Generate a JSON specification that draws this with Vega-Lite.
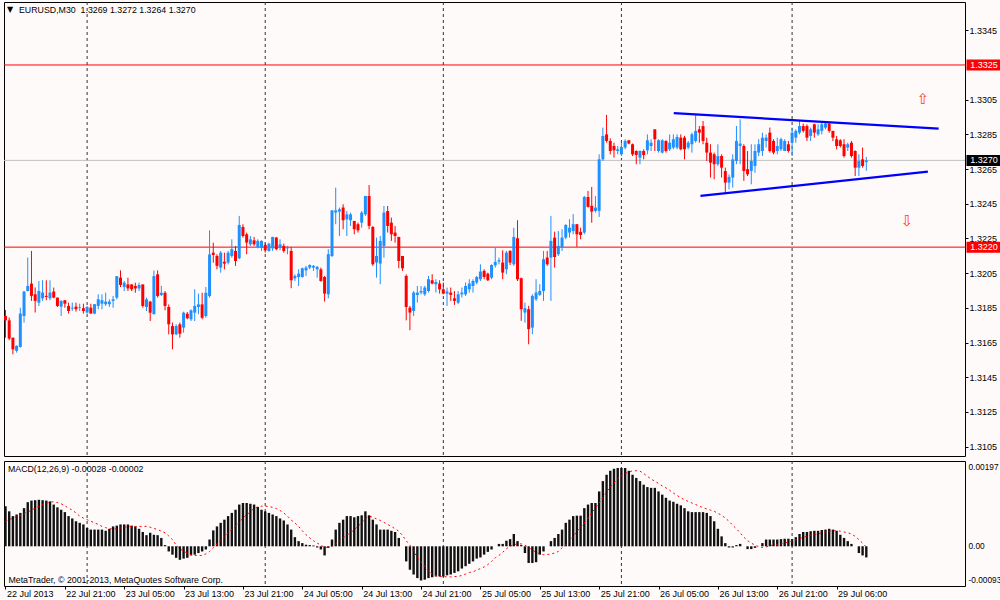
{
"$schema": "https://vega.github.io/schema/vega-lite/v6.json",
"background": "#FFFAFA",
"padding": {"left": 2, "top": 1, "right": 0, "bottom": 0},
"spacing": 3,
"config": {
  "view": {"stroke": "#000000", "strokeWidth": 1},
  "scale": {"continuousPadding": 0},
  "font": "Liberation Sans",
  "axis": {"labelFont": "Liberation Sans", "labelFontSize": 9, "labelColor": "#000000", "domain": false, "tickColor": "#000000", "grid": false}
},
"datasets": {
"bars": [
{"i":0,"o":1.31803,"h":1.31838,"l":1.31678,"c":1.31778,"m":0.00101,"s":0.00063},
{"i":1,"o":1.31778,"h":1.31794,"l":1.31663,"c":1.31673,"m":0.00088,"s":0.00067},
{"i":2,"o":1.31678,"h":1.31678,"l":1.31582,"c":1.31611,"m":0.00076,"s":0.00071},
{"i":3,"o":1.31602,"h":1.31634,"l":1.31592,"c":1.31631,"m":0.0008,"s":0.00075},
{"i":4,"o":1.31625,"h":1.31851,"l":1.31621,"c":1.31817,"m":0.00084,"s":0.00078},
{"i":5,"o":1.31803,"h":1.31947,"l":1.31765,"c":1.31944,"m":0.00096,"s":0.00082},
{"i":6,"o":1.31947,"h":1.3214,"l":1.31944,"c":1.31976,"m":0.00111,"s":0.00086},
{"i":7,"o":1.3199,"h":1.32178,"l":1.3189,"c":1.31919,"m":0.00115,"s":0.00091},
{"i":8,"o":1.31928,"h":1.31967,"l":1.31823,"c":1.3189,"m":0.00116,"s":0.00096},
{"i":9,"o":1.3188,"h":1.32005,"l":1.31861,"c":1.31947,"m":0.00117,"s":0.00101},
{"i":10,"o":1.31905,"h":1.32009,"l":1.3189,"c":1.31938,"m":0.00116,"s":0.00105},
{"i":11,"o":1.31919,"h":1.32009,"l":1.31894,"c":1.31913,"m":0.00115,"s":0.00108},
{"i":12,"o":1.31905,"h":1.32009,"l":1.31894,"c":1.31938,"m":0.00113,"s":0.00111},
{"i":13,"o":1.31944,"h":1.31967,"l":1.31905,"c":1.31909,"m":0.00105,"s":0.00112},
{"i":14,"o":1.31909,"h":1.31909,"l":1.31855,"c":1.31861,"m":0.00098,"s":0.0011},
{"i":15,"o":1.31857,"h":1.31894,"l":1.31803,"c":1.3189,"m":0.00092,"s":0.00107},
{"i":16,"o":1.31894,"h":1.31894,"l":1.31851,"c":1.31874,"m":0.00086,"s":0.00102},
{"i":17,"o":1.31861,"h":1.3188,"l":1.31817,"c":1.31832,"m":0.00076,"s":0.00096},
{"i":18,"o":1.31846,"h":1.3188,"l":1.31832,"c":1.31851,"m":0.0007,"s":0.00091},
{"i":19,"o":1.31857,"h":1.3188,"l":1.31828,"c":1.31842,"m":0.00063,"s":0.00084},
{"i":20,"o":1.31851,"h":1.31874,"l":1.31832,"c":1.31855,"m":0.00059,"s":0.00076},
{"i":21,"o":1.31848,"h":1.31874,"l":1.31817,"c":1.31832,"m":0.00055,"s":0.00071},
{"i":22,"o":1.31823,"h":1.31861,"l":1.31817,"c":1.31855,"m":0.00046,"s":0.00067},
{"i":23,"o":1.31851,"h":1.31874,"l":1.31817,"c":1.31817,"m":0.00042,"s":0.00063},
{"i":24,"o":1.31817,"h":1.31871,"l":1.31813,"c":1.31871,"m":0.00042,"s":0.00059},
{"i":25,"o":1.31861,"h":1.31928,"l":1.31842,"c":1.31899,"m":0.00042,"s":0.00055},
{"i":26,"o":1.31874,"h":1.31928,"l":1.31842,"c":1.31894,"m":0.00042,"s":0.0005},
{"i":27,"o":1.31871,"h":1.31938,"l":1.31861,"c":1.31886,"m":0.00039,"s":0.00047},
{"i":28,"o":1.31871,"h":1.31899,"l":1.31855,"c":1.31886,"m":0.00044,"s":0.00044},
{"i":29,"o":1.3189,"h":1.31919,"l":1.31851,"c":1.31899,"m":0.0005,"s":0.00044},
{"i":30,"o":1.31909,"h":1.32033,"l":1.31899,"c":1.32033,"m":0.00052,"s":0.00044},
{"i":31,"o":1.32024,"h":1.32066,"l":1.3197,"c":1.31982,"m":0.00055,"s":0.00046},
{"i":32,"o":1.3197,"h":1.32005,"l":1.31947,"c":1.31995,"m":0.00055,"s":0.00048},
{"i":33,"o":1.31985,"h":1.32024,"l":1.31947,"c":1.31962,"m":0.00055,"s":0.00049},
{"i":34,"o":1.31985,"h":1.31985,"l":1.31947,"c":1.31957,"m":0.00052,"s":0.0005},
{"i":35,"o":1.31976,"h":1.31995,"l":1.31937,"c":1.31962,"m":0.0005,"s":0.0005},
{"i":36,"o":1.31962,"h":1.31995,"l":1.31947,"c":1.31982,"m":0.00044,"s":0.0005},
{"i":37,"o":1.31985,"h":1.31985,"l":1.31851,"c":1.31861,"m":0.00036,"s":0.0005},
{"i":38,"o":1.31855,"h":1.31909,"l":1.31832,"c":1.31899,"m":0.00028,"s":0.0005},
{"i":39,"o":1.31886,"h":1.3189,"l":1.31774,"c":1.31822,"m":0.00034,"s":0.00048},
{"i":40,"o":1.31813,"h":1.32066,"l":1.31813,"c":1.32033,"m":0.00029,"s":0.00045},
{"i":41,"o":1.32043,"h":1.32066,"l":1.31909,"c":1.31918,"m":0.00028,"s":0.00042},
{"i":42,"o":1.31924,"h":1.31976,"l":1.31918,"c":1.31937,"m":0.00021,"s":0.00038},
{"i":43,"o":1.31937,"h":1.31947,"l":1.31836,"c":1.31861,"m":0.00003,"s":0.00034},
{"i":44,"o":1.31855,"h":1.3187,"l":1.31697,"c":1.31755,"m":-0.00013,"s":0.00026},
{"i":45,"o":1.31745,"h":1.31765,"l":1.31611,"c":1.31697,"m":-0.00021,"s":0.00017},
{"i":46,"o":1.31697,"h":1.31755,"l":1.31693,"c":1.31745,"m":-0.00029,"s":0.00003},
{"i":47,"o":1.31755,"h":1.31765,"l":1.31678,"c":1.31701,"m":-0.00034,"s":-0.00006},
{"i":48,"o":1.31736,"h":1.31828,"l":1.31707,"c":1.31822,"m":-0.00031,"s":-0.00013},
{"i":49,"o":1.31816,"h":1.31826,"l":1.31784,"c":1.3179,"m":-0.00029,"s":-0.00017},
{"i":50,"o":1.31784,"h":1.31841,"l":1.31774,"c":1.31836,"m":-0.00023,"s":-0.00021},
{"i":51,"o":1.31822,"h":1.31957,"l":1.31774,"c":1.31861,"m":-0.00021,"s":-0.00023},
{"i":52,"o":1.31855,"h":1.31932,"l":1.31813,"c":1.3187,"m":-0.00017,"s":-0.00023},
{"i":53,"o":1.3187,"h":1.31937,"l":1.31784,"c":1.31793,"m":-0.00013,"s":-0.00023},
{"i":54,"o":1.31803,"h":1.3197,"l":1.31793,"c":1.31937,"m":-0.00008,"s":-0.00019},
{"i":55,"o":1.31918,"h":1.32297,"l":1.31909,"c":1.32158,"m":0.00017,"s":-0.00013},
{"i":56,"o":1.32168,"h":1.32226,"l":1.3211,"c":1.32155,"m":0.0004,"s":-0.00004},
{"i":57,"o":1.32149,"h":1.32159,"l":1.32072,"c":1.32092,"m":0.0005,"s":0.00006},
{"i":58,"o":1.32082,"h":1.32178,"l":1.32053,"c":1.32168,"m":0.00059,"s":0.00016},
{"i":59,"o":1.32116,"h":1.32168,"l":1.32072,"c":1.32105,"m":0.00067,"s":0.00025},
{"i":60,"o":1.32111,"h":1.32178,"l":1.32101,"c":1.32168,"m":0.00076,"s":0.00034},
{"i":61,"o":1.32149,"h":1.32245,"l":1.32139,"c":1.32188,"m":0.00084,"s":0.00042},
{"i":62,"o":1.32178,"h":1.32207,"l":1.32092,"c":1.3212,"m":0.00092,"s":0.0005},
{"i":63,"o":1.32136,"h":1.3238,"l":1.3213,"c":1.32328,"m":0.00105,"s":0.0006},
{"i":64,"o":1.32316,"h":1.32332,"l":1.32255,"c":1.32264,"m":0.00109,"s":0.00071},
{"i":65,"o":1.32274,"h":1.32284,"l":1.32159,"c":1.32226,"m":0.00109,"s":0.0008},
{"i":66,"o":1.32216,"h":1.32264,"l":1.32207,"c":1.32245,"m":0.00107,"s":0.00086},
{"i":67,"o":1.32239,"h":1.32259,"l":1.32207,"c":1.32216,"m":0.00105,"s":0.00096},
{"i":68,"o":1.32201,"h":1.32245,"l":1.32193,"c":1.32236,"m":0.00099,"s":0.00099},
{"i":69,"o":1.32197,"h":1.32239,"l":1.32178,"c":1.32236,"m":0.00092,"s":0.00101},
{"i":70,"o":1.32213,"h":1.32226,"l":1.32168,"c":1.32182,"m":0.00088,"s":0.00101},
{"i":71,"o":1.32178,"h":1.32226,"l":1.32174,"c":1.3222,"m":0.00084,"s":0.001},
{"i":72,"o":1.32193,"h":1.32259,"l":1.32178,"c":1.32259,"m":0.0008,"s":0.00098},
{"i":73,"o":1.32255,"h":1.32259,"l":1.32182,"c":1.32188,"m":0.00076,"s":0.00095},
{"i":74,"o":1.32197,"h":1.32245,"l":1.32182,"c":1.32216,"m":0.0007,"s":0.0009},
{"i":75,"o":1.32207,"h":1.3222,"l":1.32168,"c":1.32178,"m":0.00065,"s":0.00084},
{"i":76,"o":1.32193,"h":1.32207,"l":1.32159,"c":1.32201,"m":0.00055,"s":0.00076},
{"i":77,"o":1.32178,"h":1.32201,"l":1.31963,"c":1.32009,"m":0.00042,"s":0.00066},
{"i":78,"o":1.3202,"h":1.32043,"l":1.32005,"c":1.32034,"m":0.00023,"s":0.00059},
{"i":79,"o":1.32028,"h":1.32072,"l":1.31976,"c":1.32047,"m":0.00013,"s":0.0005},
{"i":80,"o":1.32028,"h":1.32082,"l":1.32024,"c":1.32078,"m":0.00008,"s":0.00039},
{"i":81,"o":1.32066,"h":1.32092,"l":1.32034,"c":1.32082,"m":0.00004,"s":0.00029},
{"i":82,"o":1.32082,"h":1.32101,"l":1.32072,"c":1.32097,"m":0.00003,"s":0.00021},
{"i":83,"o":1.32082,"h":1.32097,"l":1.32063,"c":1.32092,"m":0.00002,"s":0.00014},
{"i":84,"o":1.32072,"h":1.32092,"l":1.32024,"c":1.32086,"m":-0.00003,"s":0.00008},
{"i":85,"o":1.32072,"h":1.32082,"l":1.32001,"c":1.32005,"m":-0.00008,"s":0.00003},
{"i":86,"o":1.32028,"h":1.32034,"l":1.31886,"c":1.31932,"m":-0.00023,"s":-0.00003},
{"i":87,"o":1.31928,"h":1.32188,"l":1.31905,"c":1.32159,"m":-0.00004,"s":-0.00002},
{"i":88,"o":1.32149,"h":1.32412,"l":1.32143,"c":1.32412,"m":0.00017,"s":0},
{"i":89,"o":1.32399,"h":1.32543,"l":1.32332,"c":1.32412,"m":0.00042,"s":0.00006},
{"i":90,"o":1.32405,"h":1.32428,"l":1.32264,"c":1.32418,"m":0.00059,"s":0.00014},
{"i":91,"o":1.32428,"h":1.32447,"l":1.32303,"c":1.32355,"m":0.00067,"s":0.00021},
{"i":92,"o":1.3236,"h":1.32408,"l":1.32264,"c":1.32389,"m":0.00076,"s":0.00028},
{"i":93,"o":1.32355,"h":1.32399,"l":1.32322,"c":1.32389,"m":0.00076,"s":0.00034},
{"i":94,"o":1.32351,"h":1.32351,"l":1.32274,"c":1.32303,"m":0.00073,"s":0.00042},
{"i":95,"o":1.32332,"h":1.32341,"l":1.32284,"c":1.32297,"m":0.00076,"s":0.0005},
{"i":96,"o":1.32341,"h":1.32408,"l":1.32312,"c":1.32399,"m":0.00078,"s":0.00059},
{"i":97,"o":1.32389,"h":1.32495,"l":1.3238,"c":1.32495,"m":0.00088,"s":0.0007},
{"i":98,"o":1.32495,"h":1.32558,"l":1.32303,"c":1.32322,"m":0.00078,"s":0.00076},
{"i":99,"o":1.32316,"h":1.32322,"l":1.32092,"c":1.32101,"m":0.00067,"s":0.00073},
{"i":100,"o":1.32111,"h":1.32255,"l":1.32024,"c":1.32149,"m":0.00055,"s":0.00069},
{"i":101,"o":1.32105,"h":1.32264,"l":1.31986,"c":1.32236,"m":0.00042,"s":0.00065},
{"i":102,"o":1.32207,"h":1.32437,"l":1.32139,"c":1.32399,"m":0.00042,"s":0.0006},
{"i":103,"o":1.32408,"h":1.32437,"l":1.32284,"c":1.32322,"m":0.00042,"s":0.00055},
{"i":104,"o":1.32341,"h":1.3237,"l":1.32236,"c":1.32274,"m":0.00039,"s":0.0005},
{"i":105,"o":1.32284,"h":1.32322,"l":1.32226,"c":1.32264,"m":0.00036,"s":0.00044},
{"i":106,"o":1.32259,"h":1.32259,"l":1.32078,"c":1.3212,"m":0.00021,"s":0.00038},
{"i":107,"o":1.32149,"h":1.32149,"l":1.32063,"c":1.32078,"m":0,"s":0.00027},
{"i":108,"o":1.32034,"h":1.32043,"l":1.31778,"c":1.31855,"m":-0.00038,"s":0.00014},
{"i":109,"o":1.31851,"h":1.31861,"l":1.31721,"c":1.31823,"m":-0.00059,"s":0.00003},
{"i":110,"o":1.31832,"h":1.31947,"l":1.31803,"c":1.31938,"m":-0.00071,"s":-0.00013},
{"i":111,"o":1.31924,"h":1.31976,"l":1.3188,"c":1.31938,"m":-0.0008,"s":-0.00028},
{"i":112,"o":1.31938,"h":1.31976,"l":1.31928,"c":1.31947,"m":-0.00086,"s":-0.00039},
{"i":113,"o":1.31928,"h":1.31976,"l":1.31919,"c":1.31967,"m":-0.00084,"s":-0.0005},
{"i":114,"o":1.31947,"h":1.32034,"l":1.31938,"c":1.32015,"m":-0.0008,"s":-0.00063},
{"i":115,"o":1.32009,"h":1.32044,"l":1.31986,"c":1.3199,"m":-0.00078,"s":-0.0007},
{"i":116,"o":1.31986,"h":1.32015,"l":1.31938,"c":1.31999,"m":-0.00076,"s":-0.00074},
{"i":117,"o":1.3199,"h":1.32009,"l":1.31932,"c":1.31957,"m":-0.00076,"s":-0.00076},
{"i":118,"o":1.31957,"h":1.31996,"l":1.31928,"c":1.31932,"m":-0.00076,"s":-0.00076},
{"i":119,"o":1.31932,"h":1.31967,"l":1.31861,"c":1.31944,"m":-0.00073,"s":-0.00077},
{"i":120,"o":1.31938,"h":1.31967,"l":1.3189,"c":1.31925,"m":-0.00071,"s":-0.00077},
{"i":121,"o":1.31905,"h":1.31947,"l":1.31867,"c":1.3189,"m":-0.00067,"s":-0.00076},
{"i":122,"o":1.3188,"h":1.31947,"l":1.31871,"c":1.31928,"m":-0.00063,"s":-0.00076},
{"i":123,"o":1.31928,"h":1.31967,"l":1.31909,"c":1.31938,"m":-0.00056,"s":-0.00073},
{"i":124,"o":1.31928,"h":1.31996,"l":1.31919,"c":1.31976,"m":-0.0005,"s":-0.0007},
{"i":125,"o":1.31957,"h":1.32015,"l":1.31938,"c":1.3199,"m":-0.00044,"s":-0.00066},
{"i":126,"o":1.31976,"h":1.32015,"l":1.31938,"c":1.32005,"m":-0.00038,"s":-0.00064},
{"i":127,"o":1.31996,"h":1.32034,"l":1.31986,"c":1.32028,"m":-0.00031,"s":-0.0006},
{"i":128,"o":1.32015,"h":1.32101,"l":1.32005,"c":1.32059,"m":-0.00028,"s":-0.00056},
{"i":129,"o":1.32063,"h":1.32072,"l":1.32015,"c":1.32028,"m":-0.00021,"s":-0.00052},
{"i":130,"o":1.32047,"h":1.32053,"l":1.32005,"c":1.32009,"m":-0.00014,"s":-0.00046},
{"i":131,"o":1.32024,"h":1.32101,"l":1.32015,"c":1.32097,"m":-0.00008,"s":-0.00038},
{"i":132,"o":1.32095,"h":1.32197,"l":1.32082,"c":1.32115,"m":0,"s":-0.00029},
{"i":133,"o":1.32117,"h":1.3214,"l":1.32101,"c":1.32124,"m":0.00006,"s":-0.00023},
{"i":134,"o":1.32111,"h":1.32182,"l":1.32015,"c":1.32053,"m":0.00006,"s":-0.00015},
{"i":135,"o":1.32072,"h":1.32178,"l":1.32044,"c":1.32168,"m":0.00014,"s":-0.00006},
{"i":136,"o":1.32178,"h":1.32182,"l":1.32097,"c":1.32111,"m":0.00018,"s":0},
{"i":137,"o":1.32101,"h":1.32312,"l":1.32092,"c":1.32259,"m":0.00031,"s":0.00004},
{"i":138,"o":1.32251,"h":1.32355,"l":1.32005,"c":1.32015,"m":0.00013,"s":0.00006},
{"i":139,"o":1.32021,"h":1.32024,"l":1.31775,"c":1.31842,"m":0.00003,"s":0.00006},
{"i":140,"o":1.31823,"h":1.3188,"l":1.31765,"c":1.31848,"m":-0.00017,"s":0.00003},
{"i":141,"o":1.31842,"h":1.31861,"l":1.3164,"c":1.31727,"m":-0.00042,"s":-0.00003},
{"i":142,"o":1.31736,"h":1.31928,"l":1.31698,"c":1.31919,"m":-0.00042,"s":-0.00009},
{"i":143,"o":1.31899,"h":1.32015,"l":1.3189,"c":1.31938,"m":-0.0004,"s":-0.00015},
{"i":144,"o":1.31925,"h":1.31986,"l":1.31919,"c":1.31947,"m":-0.00021,"s":-0.00019},
{"i":145,"o":1.31947,"h":1.32178,"l":1.3189,"c":1.3213,"m":-0.00013,"s":-0.00021},
{"i":146,"o":1.3214,"h":1.32178,"l":1.32092,"c":1.32101,"m":0,"s":-0.00021},
{"i":147,"o":1.3214,"h":1.3238,"l":1.3189,"c":1.32236,"m":0.00013,"s":-0.00019},
{"i":148,"o":1.32255,"h":1.32289,"l":1.32082,"c":1.32143,"m":0.00021,"s":-0.00017},
{"i":149,"o":1.32159,"h":1.32293,"l":1.32149,"c":1.32207,"m":0.00031,"s":-0.00013},
{"i":150,"o":1.32197,"h":1.32303,"l":1.32178,"c":1.32255,"m":0.00042,"s":-0.00004},
{"i":151,"o":1.32255,"h":1.32332,"l":1.32245,"c":1.32328,"m":0.00059,"s":0.00004},
{"i":152,"o":1.32284,"h":1.32361,"l":1.32255,"c":1.32312,"m":0.00067,"s":0.00014},
{"i":153,"o":1.32293,"h":1.3239,"l":1.32274,"c":1.32332,"m":0.00076,"s":0.00025},
{"i":154,"o":1.32332,"h":1.32332,"l":1.32201,"c":1.32274,"m":0.00077,"s":0.00037},
{"i":155,"o":1.32288,"h":1.32312,"l":1.32245,"c":1.3227,"m":0.00077,"s":0.00048},
{"i":156,"o":1.32284,"h":1.32495,"l":1.32274,"c":1.32489,"m":0.00096,"s":0.00059},
{"i":157,"o":1.32489,"h":1.32524,"l":1.32428,"c":1.32432,"m":0.00105,"s":0.00071},
{"i":158,"o":1.32438,"h":1.32547,"l":1.32341,"c":1.32405,"m":0.00109,"s":0.00084},
{"i":159,"o":1.32409,"h":1.32495,"l":1.32399,"c":1.32428,"m":0.00109,"s":0.00096},
{"i":160,"o":1.32409,"h":1.32735,"l":1.32374,"c":1.32706,"m":0.00138,"s":0.00109},
{"i":161,"o":1.32706,"h":1.32889,"l":1.32697,"c":1.32841,"m":0.00164,"s":0.00123},
{"i":162,"o":1.3285,"h":1.32962,"l":1.32802,"c":1.32812,"m":0.0018,"s":0.00137},
{"i":163,"o":1.32812,"h":1.32827,"l":1.32735,"c":1.32754,"m":0.0019,"s":0.00149},
{"i":164,"o":1.32783,"h":1.32802,"l":1.32716,"c":1.32758,"m":0.00195,"s":0.00159},
{"i":165,"o":1.32754,"h":1.32783,"l":1.32735,"c":1.32764,"m":0.00197,"s":0.0017},
{"i":166,"o":1.32735,"h":1.32802,"l":1.32725,"c":1.32777,"m":0.00197,"s":0.00178},
{"i":167,"o":1.32774,"h":1.32822,"l":1.32764,"c":1.32812,"m":0.00197,"s":0.00183},
{"i":168,"o":1.32816,"h":1.32816,"l":1.32793,"c":1.32797,"m":0.0019,"s":0.00187},
{"i":169,"o":1.32793,"h":1.32797,"l":1.32725,"c":1.32735,"m":0.0018,"s":0.0019},
{"i":170,"o":1.32754,"h":1.32758,"l":1.32678,"c":1.32731,"m":0.00172,"s":0.0019},
{"i":171,"o":1.32716,"h":1.32758,"l":1.32678,"c":1.32754,"m":0.00164,"s":0.00189},
{"i":172,"o":1.32754,"h":1.32764,"l":1.32706,"c":1.32731,"m":0.00155,"s":0.00183},
{"i":173,"o":1.32758,"h":1.3285,"l":1.32735,"c":1.32816,"m":0.00149,"s":0.00176},
{"i":174,"o":1.32783,"h":1.32822,"l":1.32754,"c":1.32802,"m":0.00147,"s":0.00169},
{"i":175,"o":1.32879,"h":1.32879,"l":1.32754,"c":1.32822,"m":0.00147,"s":0.00164},
{"i":176,"o":1.32754,"h":1.32822,"l":1.32745,"c":1.32816,"m":0.00138,"s":0.00158},
{"i":177,"o":1.32745,"h":1.32822,"l":1.32739,"c":1.32816,"m":0.0013,"s":0.00152},
{"i":178,"o":1.32812,"h":1.32816,"l":1.32745,"c":1.32754,"m":0.00122,"s":0.00147},
{"i":179,"o":1.32764,"h":1.3285,"l":1.32754,"c":1.32802,"m":0.00115,"s":0.00141},
{"i":180,"o":1.32774,"h":1.3285,"l":1.32764,"c":1.32822,"m":0.00112,"s":0.00134},
{"i":181,"o":1.32774,"h":1.3285,"l":1.32764,"c":1.32835,"m":0.00107,"s":0.00128},
{"i":182,"o":1.32831,"h":1.3285,"l":1.32758,"c":1.32764,"m":0.00103,"s":0.00122},
{"i":183,"o":1.32831,"h":1.32841,"l":1.32706,"c":1.32764,"m":0.00096,"s":0.00117},
{"i":184,"o":1.32774,"h":1.32812,"l":1.32764,"c":1.32802,"m":0.00088,"s":0.00113},
{"i":185,"o":1.32793,"h":1.3286,"l":1.32745,"c":1.3285,"m":0.00086,"s":0.00109},
{"i":186,"o":1.32812,"h":1.32962,"l":1.32802,"c":1.3287,"m":0.00086,"s":0.00105},
{"i":187,"o":1.32879,"h":1.32898,"l":1.32802,"c":1.3286,"m":0.00086,"s":0.00101},
{"i":188,"o":1.32898,"h":1.32927,"l":1.32793,"c":1.32812,"m":0.00086,"s":0.00097},
{"i":189,"o":1.32802,"h":1.32831,"l":1.32697,"c":1.32745,"m":0.00084,"s":0.00094},
{"i":190,"o":1.32745,"h":1.32793,"l":1.32601,"c":1.32687,"m":0.00076,"s":0.00091},
{"i":191,"o":1.32735,"h":1.32745,"l":1.32591,"c":1.32678,"m":0.00063,"s":0.00088},
{"i":192,"o":1.32678,"h":1.32793,"l":1.32668,"c":1.32725,"m":0.00044,"s":0.00083},
{"i":193,"o":1.32725,"h":1.32735,"l":1.32601,"c":1.32658,"m":0.00025,"s":0.00078},
{"i":194,"o":1.32639,"h":1.32658,"l":1.32514,"c":1.32572,"m":0.00008,"s":0.00071},
{"i":195,"o":1.32572,"h":1.3262,"l":1.32533,"c":1.32605,"m":-0.00003,"s":0.00063},
{"i":196,"o":1.32601,"h":1.32735,"l":1.32543,"c":1.32706,"m":-0.00003,"s":0.00053},
{"i":197,"o":1.32697,"h":1.32898,"l":1.32678,"c":1.32812,"m":0.00003,"s":0.00044},
{"i":198,"o":1.32783,"h":1.32937,"l":1.32678,"c":1.32797,"m":0.00006,"s":0.00034},
{"i":199,"o":1.32783,"h":1.32793,"l":1.32582,"c":1.32639,"m":0,"s":0.00023},
{"i":200,"o":1.32649,"h":1.32754,"l":1.3261,"c":1.3262,"m":-0.00007,"s":0.00014},
{"i":201,"o":1.32639,"h":1.32793,"l":1.32562,"c":1.32697,"m":-0.00007,"s":0.00008},
{"i":202,"o":1.32668,"h":1.32793,"l":1.32629,"c":1.32754,"m":-0.00004,"s":0.00003},
{"i":203,"o":1.32745,"h":1.32822,"l":1.32725,"c":1.32793,"m":0,"s":-0.00001},
{"i":204,"o":1.32754,"h":1.3286,"l":1.32725,"c":1.32831,"m":0.00008,"s":-0.00003},
{"i":205,"o":1.32812,"h":1.3285,"l":1.32774,"c":1.32831,"m":0.00017,"s":-0.00002},
{"i":206,"o":1.3286,"h":1.32889,"l":1.32745,"c":1.32754,"m":0.00017,"s":0.00002},
{"i":207,"o":1.32812,"h":1.32822,"l":1.32735,"c":1.32745,"m":0.00017,"s":0.00003},
{"i":208,"o":1.32754,"h":1.32831,"l":1.32735,"c":1.32783,"m":0.00017,"s":0.00004},
{"i":209,"o":1.32764,"h":1.32831,"l":1.32754,"c":1.32822,"m":0.00018,"s":0.00006},
{"i":210,"o":1.32754,"h":1.32822,"l":1.32754,"c":1.32812,"m":0.00019,"s":0.00008},
{"i":211,"o":1.32793,"h":1.32812,"l":1.32745,"c":1.32754,"m":0.00019,"s":0.00011},
{"i":212,"o":1.32802,"h":1.32889,"l":1.32725,"c":1.3286,"m":0.00018,"s":0.00013},
{"i":213,"o":1.32831,"h":1.32879,"l":1.32802,"c":1.3287,"m":0.00023,"s":0.00016},
{"i":214,"o":1.3286,"h":1.32927,"l":1.3285,"c":1.32898,"m":0.00031,"s":0.00019},
{"i":215,"o":1.32898,"h":1.32912,"l":1.3286,"c":1.3287,"m":0.00036,"s":0.00023},
{"i":216,"o":1.32898,"h":1.32908,"l":1.32812,"c":1.32831,"m":0.00036,"s":0.00025},
{"i":217,"o":1.32841,"h":1.32889,"l":1.32812,"c":1.32879,"m":0.00038,"s":0.00028},
{"i":218,"o":1.32908,"h":1.32912,"l":1.32831,"c":1.3286,"m":0.00039,"s":0.00029},
{"i":219,"o":1.3285,"h":1.32908,"l":1.32841,"c":1.32879,"m":0.00039,"s":0.00031},
{"i":220,"o":1.3287,"h":1.32918,"l":1.3285,"c":1.32908,"m":0.00041,"s":0.00034},
{"i":221,"o":1.32889,"h":1.32918,"l":1.32879,"c":1.32912,"m":0.00042,"s":0.00036},
{"i":222,"o":1.32912,"h":1.32918,"l":1.3286,"c":1.3287,"m":0.00044,"s":0.00038},
{"i":223,"o":1.3287,"h":1.3287,"l":1.32812,"c":1.32831,"m":0.00042,"s":0.00039},
{"i":224,"o":1.32822,"h":1.32841,"l":1.32764,"c":1.32783,"m":0.00039,"s":0.00039},
{"i":225,"o":1.32816,"h":1.32822,"l":1.32774,"c":1.32783,"m":0.00029,"s":0.00038},
{"i":226,"o":1.32793,"h":1.32822,"l":1.32716,"c":1.32725,"m":0.00021,"s":0.00036},
{"i":227,"o":1.32774,"h":1.32802,"l":1.32754,"c":1.32793,"m":0.00013,"s":0.00034},
{"i":228,"o":1.32802,"h":1.32812,"l":1.32716,"c":1.32725,"m":0.00006,"s":0.00031},
{"i":229,"o":1.32754,"h":1.32758,"l":1.3261,"c":1.32658,"m":0,"s":0.00025},
{"i":230,"o":1.32658,"h":1.32735,"l":1.3261,"c":1.32697,"m":-0.00017,"s":0.00017},
{"i":231,"o":1.32706,"h":1.32774,"l":1.32658,"c":1.32668,"m":-0.00023,"s":0.00008},
{"i":232,"o":1.3269,"h":1.3272,"l":1.3264,"c":1.327,"m":-0.00028,"s":-0.00002}
],
"seps": [{"i":22},{"i":70},{"i":118},{"i":166},{"i":212}],
"trend": [{"k":"a","i":180.1,"p":1.32972},{"k":"a","i":251.5,"p":1.32883},{"k":"b","i":187.3,"p":1.32495},{"k":"b","i":248.6,"p":1.32635}],
"levels": [{"p":1.3325},{"p":1.322}],
"boxes": [{"p":1.3325},{"p":1.322},{"p":1.327}]
},
"vconcat": [
{
  "width": 961, "height": 454,
  "layer": [
    {"data": {"name": "seps"}, "mark": {"type": "rule", "color": "#333333", "strokeDash": [3, 3], "strokeWidth": 1},
     "encoding": {"x": {"field": "i", "type": "quantitative", "scale": {"domain": [-0.4, 258.6], "nice": false, "zero": false, "padding": 0}, "axis": null}}},
    {"data": {"values": [{"p": 1.327}]}, "mark": {"type": "rule", "color": "#C0C0C0", "strokeWidth": 1},
     "encoding": {"y": {"field": "p", "type": "quantitative", "scale": {"domain": [1.30996, 1.33613], "nice": false, "zero": false, "padding": 0},
       "axis": {"orient": "right", "values": [1.3105, 1.3125, 1.3145, 1.3165, 1.3185, 1.3205, 1.3225, 1.3245, 1.3265, 1.3285, 1.3305, 1.3345], "format": ".4f", "tickSize": 3, "labelPadding": 1, "labelAlign": "left", "labelBaseline": "middle", "title": null}}}},
    {"data": {"name": "levels"}, "mark": {"type": "rule", "color": "#FF0000", "strokeWidth": 1},
     "encoding": {"y": {"field": "p", "type": "quantitative", "scale": {"domain": [1.30996, 1.33613], "nice": false, "zero": false, "padding": 0},
       "axis": {"orient": "right", "values": [1.3105, 1.3125, 1.3145, 1.3165, 1.3185, 1.3205, 1.3225, 1.3245, 1.3265, 1.3285, 1.3305, 1.3345], "format": ".4f", "tickSize": 3, "labelPadding": 1, "labelAlign": "left", "labelBaseline": "middle", "title": null}}}},
    {"data": {"name": "bars"}, "mark": {"type": "rule", "strokeWidth": 1},
     "encoding": {
       "x": {"field": "i", "type": "quantitative", "scale": {"domain": [-0.4, 258.6], "nice": false, "zero": false, "padding": 0}, "axis": null},
       "y": {"field": "l", "type": "quantitative", "scale": {"domain": [1.30996, 1.33613], "nice": false, "zero": false, "padding": 0},
             "axis": {"orient": "right", "values": [1.3105, 1.3125, 1.3145, 1.3165, 1.3185, 1.3205, 1.3225, 1.3245, 1.3265, 1.3285, 1.3305, 1.3345], "format": ".4f", "tickSize": 3, "labelPadding": 1, "labelAlign": "left", "labelBaseline": "middle", "title": null}},
       "y2": {"field": "h"},
       "color": {"condition": {"test": "datum.c >= datum.o", "value": "#1E90FF"}, "value": "#FF0000"}
     }},
    {"data": {"name": "bars"}, "mark": {"type": "bar", "width": 3},
     "encoding": {
       "x": {"field": "i", "type": "quantitative", "scale": {"domain": [-0.4, 258.6], "nice": false, "zero": false, "padding": 0}, "axis": null},
       "y": {"field": "o", "type": "quantitative", "scale": {"domain": [1.30996, 1.33613], "nice": false, "zero": false, "padding": 0},
             "axis": {"orient": "right", "values": [1.3105, 1.3125, 1.3145, 1.3165, 1.3185, 1.3205, 1.3225, 1.3245, 1.3265, 1.3285, 1.3305, 1.3345], "format": ".4f", "tickSize": 3, "labelPadding": 1, "labelAlign": "left", "labelBaseline": "middle", "title": null}},
       "y2": {"field": "c"},
       "color": {"condition": {"test": "datum.c >= datum.o", "value": "#1E90FF"}, "value": "#FF0000"}
     }},
    {"data": {"name": "trend"}, "mark": {"type": "line", "color": "#0000FF", "strokeWidth": 2.2},
     "encoding": {
       "x": {"field": "i", "type": "quantitative", "scale": {"domain": [-0.4, 258.6], "nice": false, "zero": false, "padding": 0}, "axis": null},
       "y": {"field": "p", "type": "quantitative", "scale": {"domain": [1.30996, 1.33613], "nice": false, "zero": false, "padding": 0},
             "axis": {"orient": "right", "values": [1.3105, 1.3125, 1.3145, 1.3165, 1.3185, 1.3205, 1.3225, 1.3245, 1.3265, 1.3285, 1.3305, 1.3345], "format": ".4f", "tickSize": 3, "labelPadding": 1, "labelAlign": "left", "labelBaseline": "middle", "title": null}},
       "detail": {"field": "k"}
     }},
    {"data": {"values": [{"i": 247.3, "p": 1.33054, "g": "⇧"}, {"i": 243.0, "p": 1.3235, "g": "⇩"}]}, "mark": {"type": "text", "font": "DejaVu Sans", "fontSize": 15, "color": "#FF4500", "baseline": "middle", "align": "center"},
     "encoding": {
       "x": {"field": "i", "type": "quantitative", "scale": {"domain": [-0.4, 258.6], "nice": false, "zero": false, "padding": 0}, "axis": null},
       "y": {"field": "p", "type": "quantitative", "scale": {"domain": [1.30996, 1.33613], "nice": false, "zero": false, "padding": 0},
             "axis": {"orient": "right", "values": [1.3105, 1.3125, 1.3145, 1.3165, 1.3185, 1.3205, 1.3225, 1.3245, 1.3265, 1.3285, 1.3305, 1.3345], "format": ".4f", "tickSize": 3, "labelPadding": 1, "labelAlign": "left", "labelBaseline": "middle", "title": null}},
       "text": {"field": "g"}
     }},
    {"data": {"values": [{"i": 0.4, "p": 1.33567, "t": "▼"}]}, "mark": {"type": "text", "font": "DejaVu Sans", "fontSize": 8, "color": "#000000", "baseline": "middle", "align": "left"},
     "encoding": {
       "x": {"field": "i", "type": "quantitative", "scale": {"domain": [-0.4, 258.6], "nice": false, "zero": false, "padding": 0}, "axis": null},
       "y": {"field": "p", "type": "quantitative", "scale": {"domain": [1.30996, 1.33613], "nice": false, "zero": false, "padding": 0},
             "axis": {"orient": "right", "values": [1.3105, 1.3125, 1.3145, 1.3165, 1.3185, 1.3205, 1.3225, 1.3245, 1.3265, 1.3285, 1.3305, 1.3345], "format": ".4f", "tickSize": 3, "labelPadding": 1, "labelAlign": "left", "labelBaseline": "middle", "title": null}},
       "text": {"field": "t"}
     }},
    {"data": {"values": [{"i": 3.64, "p": 1.33567, "t": "EURUSD,M30\u00a0 1.3269 1.3272 1.3264 1.3270"}]}, "mark": {"type": "text", "fontSize": 8.8, "color": "#000000", "baseline": "middle", "align": "left"},
     "encoding": {
       "x": {"field": "i", "type": "quantitative", "scale": {"domain": [-0.4, 258.6], "nice": false, "zero": false, "padding": 0}, "axis": null},
       "y": {"field": "p", "type": "quantitative", "scale": {"domain": [1.30996, 1.33613], "nice": false, "zero": false, "padding": 0},
             "axis": {"orient": "right", "values": [1.3105, 1.3125, 1.3145, 1.3165, 1.3185, 1.3205, 1.3225, 1.3245, 1.3265, 1.3285, 1.3305, 1.3345], "format": ".4f", "tickSize": 3, "labelPadding": 1, "labelAlign": "left", "labelBaseline": "middle", "title": null}},
       "text": {"field": "t"}
     }},
    {"data": {"name": "boxes"}, "mark": {"type": "bar", "orient": "horizontal", "height": 11, "clip": false},
     "encoding": {
       "x": {"datum": 259.0, "type": "quantitative", "scale": {"domain": [-0.4, 258.6], "nice": false, "zero": false, "padding": 0}, "axis": null},
       "x2": {"datum": 268.3},
       "y": {"field": "p", "type": "quantitative", "scale": {"domain": [1.30996, 1.33613], "nice": false, "zero": false, "padding": 0},
             "axis": {"orient": "right", "values": [1.3105, 1.3125, 1.3145, 1.3165, 1.3185, 1.3205, 1.3225, 1.3245, 1.3265, 1.3285, 1.3305, 1.3345], "format": ".4f", "tickSize": 3, "labelPadding": 1, "labelAlign": "left", "labelBaseline": "middle", "title": null}},
       "color": {"condition": {"test": "datum.p == 1.327", "value": "#000000"}, "value": "#FF0000"}
     }},
    {"data": {"name": "boxes"}, "mark": {"type": "text", "align": "left", "baseline": "middle", "fontSize": 9, "color": "#FFFFFF", "clip": false},
     "encoding": {
       "x": {"datum": 260.0, "type": "quantitative", "scale": {"domain": [-0.4, 258.6], "nice": false, "zero": false, "padding": 0}, "axis": null},
       "y": {"field": "p", "type": "quantitative", "scale": {"domain": [1.30996, 1.33613], "nice": false, "zero": false, "padding": 0},
             "axis": {"orient": "right", "values": [1.3105, 1.3125, 1.3145, 1.3165, 1.3185, 1.3205, 1.3225, 1.3245, 1.3265, 1.3285, 1.3305, 1.3345], "format": ".4f", "tickSize": 3, "labelPadding": 1, "labelAlign": "left", "labelBaseline": "middle", "title": null}},
       "text": {"field": "p", "type": "quantitative", "format": ".4f"}
     }}
  ]
},
{
  "width": 961, "height": 125,
  "layer": [
    {"data": {"name": "seps"}, "mark": {"type": "rule", "color": "#333333", "strokeDash": [3, 3], "strokeWidth": 1},
     "encoding": {"x": {"field": "i", "type": "quantitative", "scale": {"domain": [-0.4, 258.6], "nice": false, "zero": false, "padding": 0},
       "axis": {"orient": "bottom", "values": [0, 16, 32, 48, 64, 80, 96, 112, 128, 144, 160, 176, 192, 208, 224], "labelExpr": "['22 Jul 2013','22 Jul 21:00','23 Jul 05:00','23 Jul 13:00','23 Jul 21:00','24 Jul 05:00','24 Jul 13:00','24 Jul 21:00','25 Jul 05:00','25 Jul 13:00','25 Jul 21:00','26 Jul 05:00','26 Jul 13:00','26 Jul 21:00','29 Jul 06:00'][round(datum.value/16)]", "labelAlign": "left", "labelOffset": 1, "labelFlush": false, "labelOverlap": false, "tickSize": 3, "labelPadding": 0, "labelBaseline": "top", "title": null}}}},
    {"data": {"name": "bars"}, "mark": {"type": "bar", "width": 2.4, "color": "#111111"},
     "encoding": {
       "x": {"field": "i", "type": "quantitative", "scale": {"domain": [-0.4, 258.6], "nice": false, "zero": false, "padding": 0},
             "axis": {"orient": "bottom", "values": [0, 16, 32, 48, 64, 80, 96, 112, 128, 144, 160, 176, 192, 208, 224], "labelExpr": "['22 Jul 2013','22 Jul 21:00','23 Jul 05:00','23 Jul 13:00','23 Jul 21:00','24 Jul 05:00','24 Jul 13:00','24 Jul 21:00','25 Jul 05:00','25 Jul 13:00','25 Jul 21:00','26 Jul 05:00','26 Jul 13:00','26 Jul 21:00','29 Jul 06:00'][round(datum.value/16)]", "labelAlign": "left", "labelOffset": 1, "labelFlush": false, "labelOverlap": false, "tickSize": 3, "labelPadding": 0, "labelBaseline": "top", "title": null}},
       "y": {"field": "m", "type": "quantitative", "scale": {"domain": [-0.000999, 0.002146], "nice": false, "zero": false, "padding": 0},
             "axis": {"orient": "right", "values": [0.00197, 0, -0.000855], "labelExpr": "datum.value == 0 ? '0.00' : (datum.value < 0 ? '-0.00093' : '0.00197')", "tickSize": 0, "labelPadding": 3, "labelFontSize": 8.3, "labelAlign": "left", "labelBaseline": "middle", "title": null}},
       "y2": {"datum": 0}
     }},
    {"data": {"name": "bars"}, "mark": {"type": "line", "color": "#FF0000", "strokeDash": [2, 3], "strokeWidth": 1},
     "encoding": {
       "x": {"field": "i", "type": "quantitative", "scale": {"domain": [-0.4, 258.6], "nice": false, "zero": false, "padding": 0},
             "axis": {"orient": "bottom", "values": [0, 16, 32, 48, 64, 80, 96, 112, 128, 144, 160, 176, 192, 208, 224], "labelExpr": "['22 Jul 2013','22 Jul 21:00','23 Jul 05:00','23 Jul 13:00','23 Jul 21:00','24 Jul 05:00','24 Jul 13:00','24 Jul 21:00','25 Jul 05:00','25 Jul 13:00','25 Jul 21:00','26 Jul 05:00','26 Jul 13:00','26 Jul 21:00','29 Jul 06:00'][round(datum.value/16)]", "labelAlign": "left", "labelOffset": 1, "labelFlush": false, "labelOverlap": false, "tickSize": 3, "labelPadding": 0, "labelBaseline": "top", "title": null}},
       "y": {"field": "s", "type": "quantitative", "scale": {"domain": [-0.000999, 0.002146], "nice": false, "zero": false, "padding": 0},
             "axis": {"orient": "right", "values": [0.00197, 0, -0.000855], "labelExpr": "datum.value == 0 ? '0.00' : (datum.value < 0 ? '-0.00093' : '0.00197')", "tickSize": 0, "labelPadding": 3, "labelFontSize": 8.3, "labelAlign": "left", "labelBaseline": "middle", "title": null}}
     }},
    {"data": {"values": [{"i": 0.67, "m": 0.001945, "t": "MACD(12,26,9) -0.00028 -0.00002"}, {"i": 0.8, "m": -0.000848, "t": "MetaTrader, © 2001-2013, MetaQuotes Software Corp."}]},
     "mark": {"type": "text", "fontSize": 8.8, "color": "#000000", "baseline": "middle", "align": "left"},
     "encoding": {
       "x": {"field": "i", "type": "quantitative", "scale": {"domain": [-0.4, 258.6], "nice": false, "zero": false, "padding": 0},
             "axis": {"orient": "bottom", "values": [0, 16, 32, 48, 64, 80, 96, 112, 128, 144, 160, 176, 192, 208, 224], "labelExpr": "['22 Jul 2013','22 Jul 21:00','23 Jul 05:00','23 Jul 13:00','23 Jul 21:00','24 Jul 05:00','24 Jul 13:00','24 Jul 21:00','25 Jul 05:00','25 Jul 13:00','25 Jul 21:00','26 Jul 05:00','26 Jul 13:00','26 Jul 21:00','29 Jul 06:00'][round(datum.value/16)]", "labelAlign": "left", "labelOffset": 1, "labelFlush": false, "labelOverlap": false, "tickSize": 3, "labelPadding": 0, "labelBaseline": "top", "title": null}},
       "y": {"field": "m", "type": "quantitative", "scale": {"domain": [-0.000999, 0.002146], "nice": false, "zero": false, "padding": 0},
             "axis": {"orient": "right", "values": [0.00197, 0, -0.000855], "labelExpr": "datum.value == 0 ? '0.00' : (datum.value < 0 ? '-0.00093' : '0.00197')", "tickSize": 0, "labelPadding": 3, "labelFontSize": 8.3, "labelAlign": "left", "labelBaseline": "middle", "title": null}},
       "text": {"field": "t"}
     }}
  ]
}
]
}
